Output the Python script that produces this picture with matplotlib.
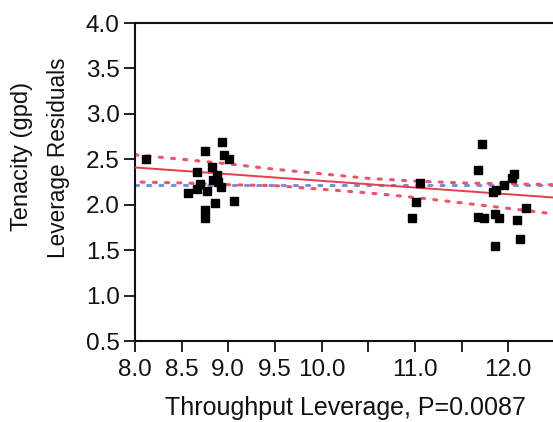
import matplotlib
matplotlib.use("Agg")
import matplotlib.pyplot as plt

# leverage plot data
throughput = [8.12, 8.93, 8.75, 8.95, 9.01, 8.83, 8.66, 8.88, 8.84, 8.89,
              8.70, 8.92, 8.66, 8.77, 8.57, 9.06, 8.86, 8.75, 8.75,
              11.05, 11.01, 10.97,
              11.72, 11.68, 12.06, 12.04, 11.96, 11.87, 11.84, 12.19,
              11.68, 11.74, 11.86, 11.90, 12.09, 11.86, 12.13]
residuals = [2.50, 2.69, 2.59, 2.55, 2.50, 2.41, 2.36, 2.33, 2.27, 2.25,
             2.23, 2.20, 2.17, 2.15, 2.13, 2.04, 2.02, 1.94, 1.85,
             2.24, 2.03, 1.85,
             2.67, 2.38, 2.34, 2.29, 2.22, 2.16, 2.14, 1.96,
             1.87, 1.85, 1.90, 1.85, 1.83, 1.55, 1.62]

# fit line and confidence curves
fit_x = [8.0, 12.48]
fit_y = [2.41, 2.08]
band_x = [8.0, 8.5, 9.0, 9.5, 10.0, 10.5, 11.0, 11.5, 12.0, 12.48]
band_upper = [2.55, 2.50, 2.45, 2.39, 2.34, 2.29, 2.26, 2.24, 2.23, 2.22]
band_lower = [2.25, 2.24, 2.22, 2.21, 2.17, 2.13, 2.08, 2.02, 1.96, 1.90]
mean_y = 2.22

x_ticks = [8.0, 8.5, 9.0, 9.5, 10.0, 10.5, 11.0, 11.5, 12.0]
x_labels = ["8.0", "8.5", "9.0", "9.5", "10.0", "", "11.0", "", "12.0"]
y_ticks = [0.5, 1.0, 1.5, 2.0, 2.5, 3.0, 3.5, 4.0]

plt.rcParams['font.family'] = ['Liberation Sans', 'DejaVu Sans']
fs = 17.5

fig = plt.figure(figsize=(5.53, 4.22), dpi=100)
ax = fig.add_axes([135 / 553, 1 - 341 / 422, 1 - 135 / 553, (341 - 23) / 422])

red = '#ec3a48'
red_dot = '#f05266'
blue_dot = '#7290dc'

ax.plot([8.0, 12.48], [mean_y, mean_y], color=blue_dot, lw=2.2,
        linestyle=(0, (1, 3)), dash_capstyle='round', zorder=2)
ax.plot(band_x, band_upper, color=red_dot, lw=2.2,
        linestyle=(0, (1, 3)), dash_capstyle='round', zorder=2)
ax.plot(band_x, band_lower, color=red_dot, lw=2.2,
        linestyle=(2, (1, 3)), dash_capstyle='round', zorder=2)
ax.plot(fit_x, fit_y, color=red, lw=1.4, zorder=3)

ax.plot(throughput, residuals, 's', color='black', markersize=5.2, zorder=4)

ax.set_xlim(8.0, 12.48)
ax.set_ylim(0.5, 4.0)
ax.set_xticks(x_ticks, x_labels)
ax.set_yticks(y_ticks, ["%.1f" % v for v in y_ticks])
ax.tick_params(axis='both', direction='out', length=8, width=1.3,
               labelsize=fs, colors='#111111')
ax.tick_params(axis='x', pad=5)
ax.tick_params(axis='y', pad=3)

for side in ['left', 'bottom', 'top']:
    ax.spines[side].set_linewidth(1.5)
    ax.spines[side].set_color('#111111')
ax.spines['right'].set_visible(False)

fig.text(22 / 553, 1 - 156 / 422, "Tenacity (gpd)", rotation=90,
         ha='center', va='center', fontsize=17, color='#111111')
fig.text(58 / 553, 1 - 158 / 422, "Leverage Residuals", rotation=90,
         ha='center', va='center', fontsize=16.3, color='#111111')
fig.text(345 / 553, 1 - 408 / 422, "Throughput Leverage, P=0.0087",
         ha='center', va='center', fontsize=18, color='#111111')

fig.savefig("out.png", dpi=100)
